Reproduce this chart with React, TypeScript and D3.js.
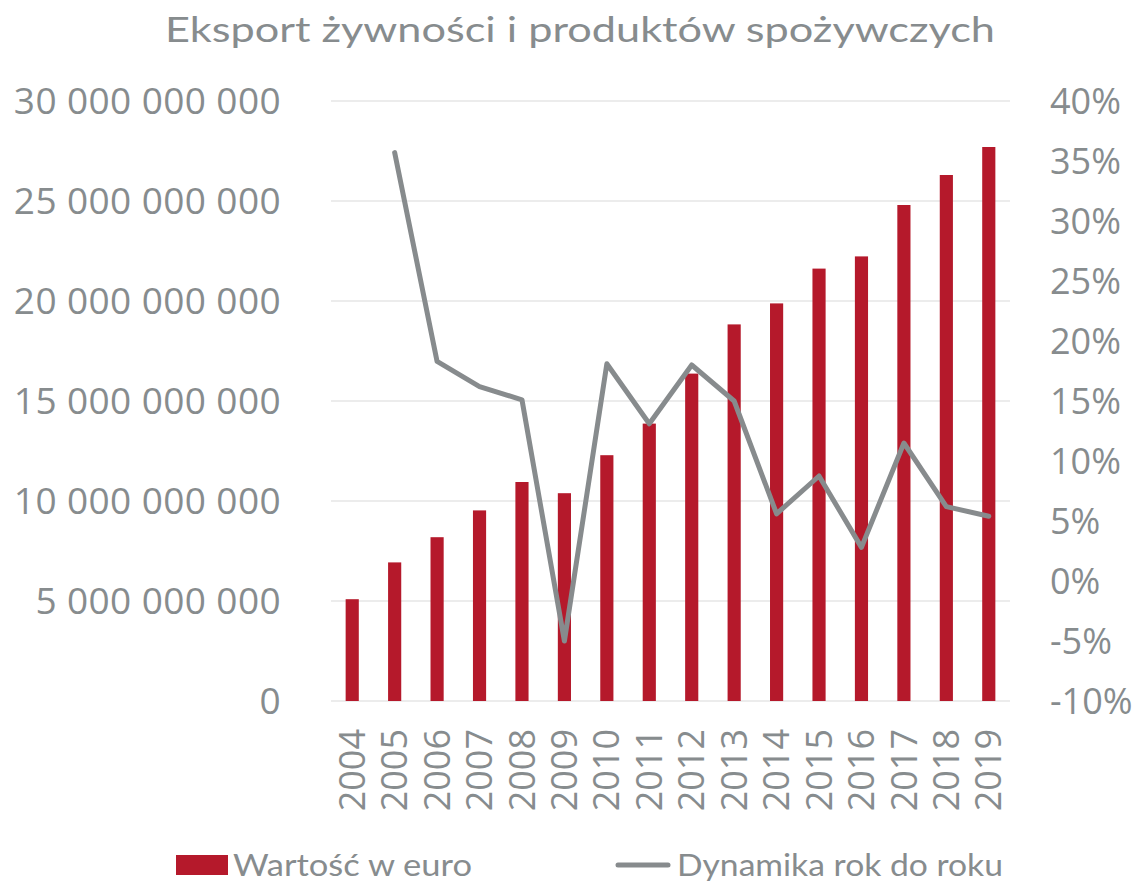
import React from "react";
import * as d3 from "d3";

const years = ["2004","2005","2006","2007","2008","2009","2010","2011","2012","2013","2014","2015","2016","2017","2018","2019"];
const valuesEur = [5.09e9, 6.93e9, 8.19e9, 9.53e9, 10.95e9, 10.39e9, 12.29e9, 13.87e9, 16.37e9, 18.83e9, 19.88e9, 21.62e9, 22.23e9, 24.8e9, 26.3e9, 27.7e9];
const growthPct: (number | null)[] = [null, 35.7, 18.3, 16.2, 15.1, -5.0, 18.1, 13.1, 18.0, 15.0, 5.6, 8.75, 2.8, 11.5, 6.2, 5.4];
const leftTicks = [0, 5e9, 10e9, 15e9, 20e9, 25e9, 30e9];
const rightTicks = [-10, -5, 0, 5, 10, 15, 20, 25, 30, 35, 40];
const title = "Eksport żywności i produktów spożywczych";
const legendBar = "Wartość w euro";
const legendLine = "Dynamika rok do roku";

const W = 1139, H = 881;
const M = { left: 331, right: 1010, top: 101, bottom: 701 };
const TXT = "#878c8e";
const BAR = "#b5192b";
const LINE = "#878b8d";
const GRID = "#e6e6e6";
const AXF = "'Open Sans', sans-serif";
const TF = "Lato, 'Open Sans', sans-serif";

const fmtLeft = (v: number) => d3.format(",")(v).replace(/,/g, " ");

export default function App() {
  const x = d3.scaleBand<string>().domain(years).range([M.left, M.right]).paddingInner(0.69).paddingOuter(0.345);
  const yL = d3.scaleLinear().domain([0, 30e9]).range([M.bottom, M.top]);
  const yR = d3.scaleLinear().domain([-10, 40]).range([M.bottom, M.top]);
  const pts = years.map((yr, i) => ({ yr, v: growthPct[i] }));
  const line = d3.line<{ yr: string; v: number | null }>()
    .defined(d => d.v !== null)
    .x(d => (x(d.yr) as number) + x.bandwidth() / 2)
    .y(d => yR(d.v as number));

  return (
    <svg width={W} height={H} style={{ position: "absolute", left: 0, top: 0, background: "#fff" }}>
      <text x={165} y={42} textAnchor="start" fontFamily={TF} fontSize={35} fill={TXT} textLength={830} lengthAdjust="spacingAndGlyphs">{title}</text>
      {leftTicks.map(t => (
        <line key={"g" + t} x1={M.left} x2={M.right} y1={yL(t)} y2={yL(t)} stroke={GRID} strokeWidth={1.5} />
      ))}
      {leftTicks.map(t => (
        <text key={"l" + t} x={281} y={yL(t)} dy="0.35em" textAnchor="end" fontFamily={AXF} fontSize={37} letterSpacing={0.4} fill={TXT}>{fmtLeft(t)}</text>
      ))}
      {rightTicks.map(t => (
        <text key={"r" + t} x={1050} y={yR(t)} dy="0.35em" textAnchor="start" fontFamily={AXF} fontSize={36} fill={TXT}>{t + "%"}</text>
      ))}
      {years.map((yr, i) => (
        <rect key={"b" + yr} x={x(yr)} y={yL(valuesEur[i])} width={x.bandwidth()} height={yL(0) - yL(valuesEur[i])} fill={BAR} />
      ))}
      <path d={line(pts) || ""} fill="none" stroke={LINE} strokeWidth={5} strokeLinejoin="round" strokeLinecap="round" />
      {years.map(yr => {
        const cx = (x(yr) as number) + x.bandwidth() / 2;
        return (
          <text key={"x" + yr} transform={`translate(${cx},${729}) rotate(-90)`} textAnchor="end" dy="0.35em" fontFamily={AXF} fontSize={36} fill={TXT}>{yr}</text>
        );
      })}
      <rect x={176} y={855} width={52} height={20} fill={BAR} />
      <text x={233} y={876} fontFamily={TF} fontSize={30} fill={TXT} textLength={239} lengthAdjust="spacingAndGlyphs">{legendBar}</text>
      <line x1={618} x2={668} y1={865} y2={865} stroke={LINE} strokeWidth={5} strokeLinecap="round" />
      <text x={677} y={876} fontFamily={TF} fontSize={30} fill={TXT} textLength={326} lengthAdjust="spacingAndGlyphs">{legendLine}</text>
    </svg>
  );
}
